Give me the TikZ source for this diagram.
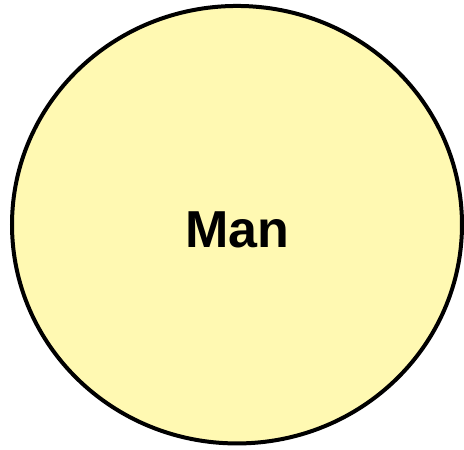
\documentclass[tikz,border=0pt]{standalone}
\usepackage{fontspec}
\setmainfont{Liberation Sans}
\usepackage{tikz}
\usetikzlibrary{shapes.geometric}
\definecolor{paleyellow}{RGB}{255,249,178}

\begin{document}
\begin{tikzpicture}[
  x=1pt, y=-1pt,
  blob/.style={
    ellipse, draw=black, line width=4pt, fill=paleyellow,
    minimum width=450pt, minimum height=437.5pt, inner sep=0pt,
    text height=45pt, text depth=0pt,
    font=\bfseries\fontsize{52}{60}\selectfont
  },
]

%% ---- page frame ----
\useasboundingbox (0,0) rectangle (464,450);

%% ---- the circle ----
\node[blob] (man) at (237,224.7) {Man};

\end{tikzpicture}
\end{document}
